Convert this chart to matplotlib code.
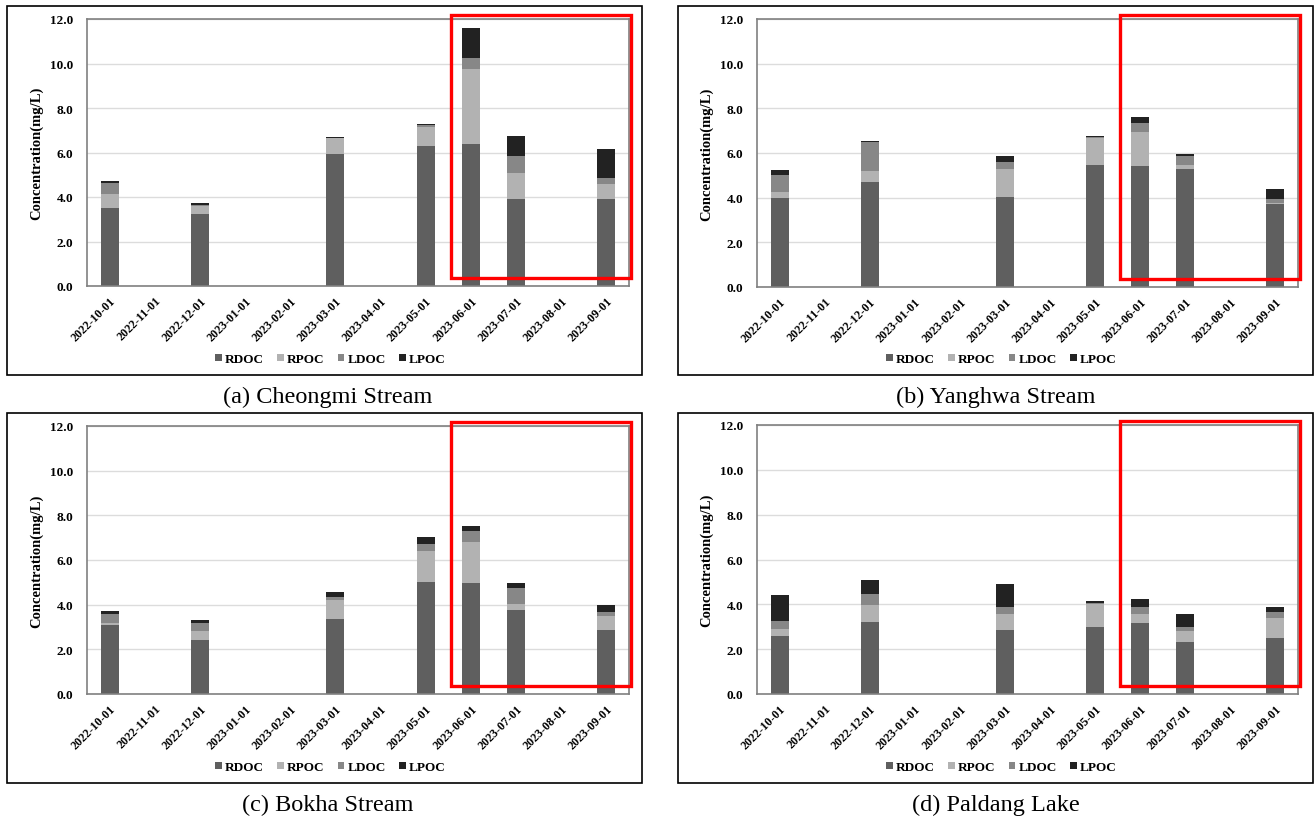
import matplotlib
matplotlib.use("Agg")
import matplotlib.pyplot as plt
from matplotlib.patches import Rectangle

plt.rcParams["font.family"] = ["Liberation Serif", "DejaVu Serif"]

W, H = 1314, 820

months = ["2022-10-01", "2022-11-01", "2022-12-01", "2023-01-01", "2023-02-01", "2023-03-01",
          "2023-04-01", "2023-05-01", "2023-06-01", "2023-07-01", "2023-08-01", "2023-09-01"]
components = ["RDOC", "RPOC", "LDOC", "LPOC"]
colors = ["#5f5f5f", "#b2b2b2", "#878787", "#222222"]

# (a) Cheongmi Stream
cheongmi_rdoc = [3.50, 0, 3.25, 0, 0, 5.95, 0, 6.30, 6.40, 3.90, 0, 3.90]
cheongmi_rpoc = [0.65, 0, 0.35, 0, 0, 0.70, 0, 0.85, 3.35, 1.20, 0, 0.70]
cheongmi_ldoc = [0.50, 0, 0.05, 0, 0, 0.02, 0, 0.10, 0.50, 0.75, 0, 0.25]
cheongmi_lpoc = [0.05, 0, 0.10, 0, 0, 0.03, 0, 0.03, 1.35, 0.90, 0, 1.30]

# (b) Yanghwa Stream
yanghwa_rdoc = [4.00, 0, 4.70, 0, 0, 4.05, 0, 5.45, 5.40, 5.30, 0, 3.70]
yanghwa_rpoc = [0.25, 0, 0.50, 0, 0, 1.25, 0, 1.20, 1.55, 0.15, 0, 0.05]
yanghwa_ldoc = [0.75, 0, 1.30, 0, 0, 0.30, 0, 0.07, 0.40, 0.40, 0, 0.20]
yanghwa_lpoc = [0.25, 0, 0.05, 0, 0, 0.28, 0, 0.02, 0.25, 0.10, 0, 0.43]

# (c) Bokha Stream
bokha_rdoc = [3.10, 0, 2.40, 0, 0, 3.35, 0, 5.00, 4.95, 3.75, 0, 2.85]
bokha_rpoc = [0.10, 0, 0.40, 0, 0, 0.85, 0, 1.40, 1.85, 0.30, 0, 0.65]
bokha_ldoc = [0.40, 0, 0.40, 0, 0, 0.15, 0, 0.30, 0.50, 0.70, 0, 0.15]
bokha_lpoc = [0.10, 0, 0.10, 0, 0, 0.20, 0, 0.35, 0.22, 0.22, 0, 0.32]

# (d) Paldang Lake
paldang_rdoc = [2.60, 0, 3.20, 0, 0, 2.85, 0, 3.00, 3.15, 2.30, 0, 2.50]
paldang_rpoc = [0.30, 0, 0.75, 0, 0, 0.70, 0, 1.00, 0.40, 0.50, 0, 0.90]
paldang_ldoc = [0.35, 0, 0.50, 0, 0, 0.35, 0, 0.05, 0.35, 0.20, 0, 0.25]
paldang_lpoc = [1.15, 0, 0.65, 0, 0, 1.00, 0, 0.10, 0.32, 0.55, 0, 0.25]

panels = [
    ("(a) Cheongmi Stream", [cheongmi_rdoc, cheongmi_rpoc, cheongmi_ldoc, cheongmi_lpoc]),
    ("(b) Yanghwa Stream", [yanghwa_rdoc, yanghwa_rpoc, yanghwa_ldoc, yanghwa_lpoc]),
    ("(c) Bokha Stream", [bokha_rdoc, bokha_rpoc, bokha_ldoc, bokha_lpoc]),
    ("(d) Paldang Lake", [paldang_rdoc, paldang_rpoc, paldang_ldoc, paldang_lpoc]),
]

# pixel layout: plot area, panel box, caption centre
plot_px = [(87, 20, 629, 287), (757, 20, 1298, 288), (87, 427, 629, 695), (757, 426, 1298, 695)]
box_px = [(7, 7, 642, 376), (678, 7, 1313, 376), (7, 414, 642, 784), (678, 414, 1313, 784)]
caption_px = [(328, 397), (996, 397), (328, 805), (996, 805)]
legend_y = [360, 360, 768, 768]


def px_rect(l, t, r, b):
    return [l / W, 1 - b / H, (r - l) / W, (b - t) / H]


fig = plt.figure(figsize=(W / 100, H / 100), dpi=100)

for i, (caption, series) in enumerate(panels):
    bl, bt, br, bb = box_px[i]
    fig.patches.append(Rectangle((bl / W, 1 - bb / H), (br - bl) / W, (bb - bt) / H,
                                 transform=fig.transFigure, fill=False, edgecolor="black",
                                 linewidth=1.2))
    ax = fig.add_axes(px_rect(*plot_px[i]))
    x = list(range(len(months)))
    bottom = [0.0] * len(months)
    handles = []
    for name, vals, c in zip(components, series, colors):
        h = ax.bar(x, vals, 0.4, bottom=bottom, color=c, label=name, zorder=2)
        handles.append(h)
        bottom = [b + v for b, v in zip(bottom, vals)]
    ax.set_xlim(-0.5, 11.5)
    ax.set_ylim(0, 12)
    ax.set_yticks([0, 2, 4, 6, 8, 10, 12])
    ax.set_yticklabels([f"{v:.1f}" for v in [0, 2, 4, 6, 8, 10, 12]], fontsize=9.5, fontweight="bold")
    ax.set_xticks(x)
    ax.set_xticklabels(months, rotation=45, ha="right", rotation_mode="anchor",
                       fontsize=8.7, fontweight="bold")
    ax.tick_params(axis="y", length=0, pad=10)
    ax.tick_params(axis="x", length=0, pad=6)
    ax.grid(axis="y", color="#dcdcdc", linewidth=1.0, zorder=0)
    ax.set_axisbelow(True)
    for s in ax.spines.values():
        s.set_color("#808080")
        s.set_linewidth(1.2)
    ax.set_ylabel("Concentration(mg/L)", fontsize=10.5, fontweight="bold", labelpad=5)
    ax.add_patch(Rectangle((7.55, 0.35), 4.0, 11.85, fill=False, edgecolor="#ff0000",
                           linewidth=2.4, clip_on=False, zorder=5))
    cx = (bl + br) / 2 + 6
    fig.legend(handles=handles, labels=components, loc="center",
               bbox_to_anchor=(cx / W, 1 - legend_y[i] / H), ncol=4, frameon=False,
               handlelength=0.5, handleheight=0.5, handletextpad=0.25, columnspacing=1.0,
               prop={"size": 9.5, "weight": "bold"})
    fig.text(caption_px[i][0] / W, 1 - caption_px[i][1] / H, caption, ha="center", va="center",
             fontsize=17.5)

fig.savefig("out.png", dpi=100)
